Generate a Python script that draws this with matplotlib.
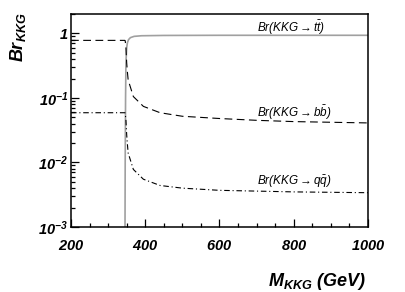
import matplotlib
matplotlib.use("Agg")
import matplotlib.pyplot as plt
import numpy as np
from matplotlib.ticker import FixedLocator, FixedFormatter, LogLocator, NullFormatter, MultipleLocator

plt.rcParams['mathtext.fontset'] = 'custom'
plt.rcParams['mathtext.rm'] = 'Liberation Sans:italic'
plt.rcParams['mathtext.it'] = 'Liberation Sans:italic'
plt.rcParams['mathtext.bf'] = 'Liberation Sans:bold:italic'

# KK gluon mass (GeV) and branching ratios
m_tt = [345.0, 345.5, 346.0, 347.0, 348.0, 350.0, 352.0, 355.0, 360.0, 370.0,
        390.0, 450.0, 600.0, 800.0, 1000.0]
br_tt = [1e-4, 0.001, 0.01, 0.1, 0.35, 0.6, 0.72, 0.8, 0.86, 0.9,
         0.92, 0.93, 0.935, 0.935, 0.935]

m_b = [200.0, 345.0, 346.0, 348.0, 350.0, 352.0, 354.0, 368.0, 395.0, 440.0,
       500.0, 600.0, 700.0, 800.0, 1000.0]
br_bb = [0.78, 0.78, 0.77, 0.6, 0.35, 0.25, 0.19, 0.105, 0.074, 0.059,
         0.052, 0.048, 0.045, 0.043, 0.041]
br_qq = [0.059, 0.059, 0.058, 0.045, 0.027, 0.019, 0.014, 0.0078, 0.0055, 0.0044,
         0.0040, 0.0037, 0.0036, 0.0035, 0.0034]

labels = [r'$Br(KKG \rightarrow t\bar{t})$',
          r'$Br(KKG \rightarrow b\bar{b})$',
          r'$Br(KKG \rightarrow q\bar{q})$']
label_y = [1.04, 0.051, 0.0045]

ytick_vals = [1e-3, 1e-2, 1e-1, 1]
ytick_labels = [r'$\mathbf{10^{-3}}$', r'$\mathbf{10^{-2}}$', r'$\mathbf{10^{-1}}$', r'$\mathbf{1}$']

fig = plt.figure(figsize=(4.05, 2.92), dpi=100)
ax = fig.add_axes([0.1753, 0.2226, 0.7333, 0.7295])

ax.plot(m_tt, br_tt, color='#a0a0a0', lw=1.2, solid_capstyle='butt')
ax.plot(m_b, br_bb, color='black', lw=0.8, dashes=(7, 4))
ax.plot(m_b, br_qq, color='black', lw=0.8, dashes=(5, 2.5, 1, 2.5))

for txt, yv in zip(labels, label_y):
    ax.text(700, yv, txt, fontsize=8.5, va='baseline', ha='left')

ax.set_yscale('log')
ax.set_xlim(200, 1000)
ax.set_ylim(1e-3, 2.0)

ax.xaxis.set_major_locator(FixedLocator([200, 400, 600, 800, 1000]))
ax.xaxis.set_major_formatter(FixedFormatter([r'$\mathbf{200}$', r'$\mathbf{400}$', r'$\mathbf{600}$',
                                             r'$\mathbf{800}$', r'$\mathbf{1000}$']))
ax.xaxis.set_minor_locator(MultipleLocator(50))

ax.yaxis.set_major_locator(FixedLocator(ytick_vals))
ax.yaxis.set_major_formatter(FixedFormatter(ytick_labels))
ax.yaxis.set_minor_locator(LogLocator(base=10, subs=np.arange(2, 10)))
ax.yaxis.set_minor_formatter(NullFormatter())

ax.tick_params(which='both', direction='in', top=False, right=False, width=0.9)
ax.tick_params(axis='x', which='major', length=6, labelsize=10.5, pad=8)
ax.tick_params(axis='y', which='major', length=6, labelsize=10.5, pad=2)
ax.tick_params(which='minor', length=3.2)
for sp in ax.spines.values():
    sp.set_linewidth(1.1)

ax.set_xlabel(r'$\mathbf{M_{KKG}\ (GeV)}$', fontsize=13, va='center', ha='center')
ax.xaxis.set_label_coords(0.83, -0.255)
ax.set_ylabel(r'$\mathbf{Br_{KKG}}$', fontsize=13, va='center', ha='center')
ax.yaxis.set_label_coords(-0.18, 0.89)

fig.savefig('out.png', dpi=100)
